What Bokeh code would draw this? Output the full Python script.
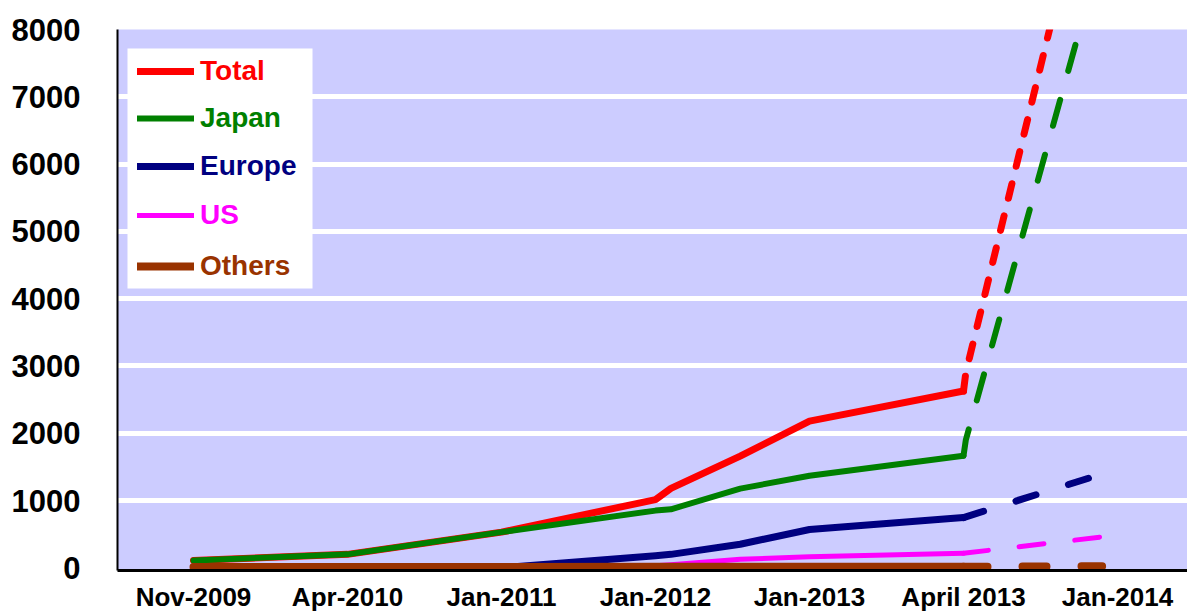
from bokeh.plotting import figure
from bokeh.models import Range1d, FixedTicker, Legend, LegendItem, BoxAnnotation
from bokeh.embed import file_html
from bokeh.resources import INLINE

# ---- data ----
categories = ["Nov-2009", "Apr-2010", "Jan-2011", "Jan-2012", "Jan-2013", "April 2013", "Jan-2014"]
y_ticks = [0, 1000, 2000, 3000, 4000, 5000, 6000, 7000, 8000]

# actual values (x = category position, fractional between categories)
x_actual = [0, 1, 2, 3, 3.1, 3.55, 4, 5]
total = [110, 200, 530, 1014, 1180, 1660, 2180, 2627]
japan = [110, 200, 530, 850, 870, 1177, 1368, 1665]
europe = [0, 0, 0, 180, 200, 350, 570, 747]
us = [0, 0, 0, 30, 45, 126, 165, 215]
others = [12, 12, 12, 14, 14, 15, 15, 15]

# projections (dashed)
x_proj_total = [5, 5.015, 5.90]
total_proj = [2627, 2900, 11200]
x_proj_japan = [5, 5.015, 5.90]
japan_proj = [1665, 1900, 9200]
x_proj = [5, 5.90]
europe_proj = [747, 1395]
us_proj = [215, 460]
others_proj = [15, 25]

names = ["Total", "Japan", "Europe", "US", "Others"]
colors = ["#FF0000", "#008000", "#000080", "#FF00FF", "#993300"]
widths = [7, 6, 7, 5, 8]
dashes = ["15 18", "27 30", "21 34", "25 31", "24 35"]
actual_vals = [total, japan, europe, us, others]
proj_x = [x_proj_total, x_proj_japan, x_proj, x_proj, x_proj]
proj_vals = [total_proj, japan_proj, europe_proj, us_proj, others_proj]

FONT = "Liberation Sans"

p = figure(width=1187, height=614, output_backend="svg", toolbar_location=None,
           x_range=Range1d(-0.4935, 6.4545), y_range=Range1d(-40, 8000),
           min_border_left=117, min_border_right=0, min_border_top=29, min_border_bottom=42)
p.background_fill_color = "#CCCCFF"
p.border_fill_color = "white"
p.outline_line_color = None

p.xgrid.visible = False
p.ygrid.ticker = FixedTicker(ticks=y_ticks[1:])
p.ygrid.grid_line_color = "white"
p.ygrid.grid_line_width = 5

p.yaxis.ticker = FixedTicker(ticks=y_ticks)
p.yaxis.major_tick_out = 0
p.yaxis.major_tick_in = 0
p.yaxis.minor_tick_out = 0
p.yaxis.minor_tick_in = 0
p.yaxis.axis_line_color = "black"
p.yaxis.axis_line_width = 2
p.yaxis.major_label_standoff = 37
p.yaxis.major_label_text_font = FONT
p.yaxis.major_label_text_font_style = "bold"
p.yaxis.major_label_text_font_size = "31px"
p.yaxis.major_label_text_color = "black"

p.xaxis.ticker = FixedTicker(ticks=list(range(len(categories))))
p.xaxis.major_label_overrides = {i: c for i, c in enumerate(categories)}
p.xaxis.major_tick_out = 0
p.xaxis.major_tick_in = 0
p.xaxis.minor_tick_out = 0
p.xaxis.minor_tick_in = 0
p.xaxis.axis_line_color = "black"
p.xaxis.axis_line_width = 3
p.xaxis.major_label_standoff = 11
p.xaxis.major_label_text_font = FONT
p.xaxis.major_label_text_font_style = "bold"
p.xaxis.major_label_text_font_size = "26px"
p.xaxis.major_label_text_color = "black"

solid_renderers = []
for name, c, w, d, av, px, pv in zip(names, colors, widths, dashes, actual_vals, proj_x, proj_vals):
    r = p.line(x_actual, av, line_color=c, line_width=w, line_cap="round", line_join="round")
    p.line(px, pv, line_color=c, line_width=w, line_cap="round", line_join="round", line_dash=d)
    solid_renderers.append(r)

# white legend box
p.add_layout(BoxAnnotation(left=127, right=312, top=48, bottom=288,
                           left_units="canvas", right_units="canvas",
                           top_units="canvas", bottom_units="canvas",
                           fill_color="white", fill_alpha=1.0, line_color=None))

legend_bottoms = [483, 436, 388, 339, 288]
for name, c, r, lb in zip(names, colors, solid_renderers, legend_bottoms):
    leg = Legend(items=[LegendItem(label=name, renderers=[r])], location=(20, lb),
                 label_text_color=c, label_text_font=FONT, label_text_font_style="bold",
                 label_text_font_size="28px", background_fill_alpha=0.0,
                 border_line_color=None, padding=0,
                 glyph_width=57, glyph_height=30, label_height=30, label_width=100,
                 label_standoff=6, margin=0, spacing=0)
    p.add_layout(leg)

open("out.html", "w").write(file_html(p, INLINE))
